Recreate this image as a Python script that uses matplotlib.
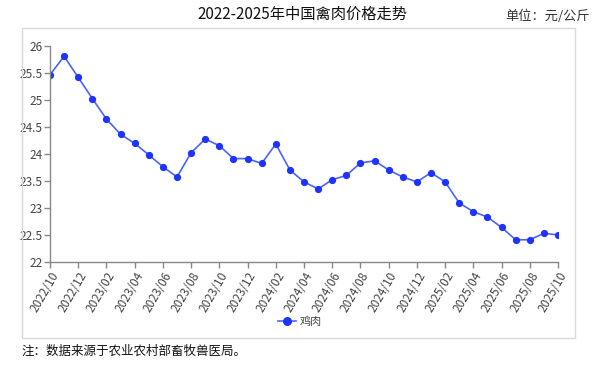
import matplotlib
matplotlib.use('Agg')
import matplotlib.pyplot as plt
from matplotlib.patches import Rectangle

plt.rcParams['font.family'] = ['Noto Sans CJK SC', 'DejaVu Sans']

# 2022/10 .. 2025/10 monthly
months = ['2022/10', '2022/11', '2022/12',
          '2023/01', '2023/02', '2023/03', '2023/04', '2023/05', '2023/06',
          '2023/07', '2023/08', '2023/09', '2023/10', '2023/11', '2023/12',
          '2024/01', '2024/02', '2024/03', '2024/04', '2024/05', '2024/06',
          '2024/07', '2024/08', '2024/09', '2024/10', '2024/11', '2024/12',
          '2025/01', '2025/02', '2025/03', '2025/04', '2025/05', '2025/06',
          '2025/07', '2025/08', '2025/09', '2025/10']
chicken = [25.46, 25.80, 25.41,
           25.02, 24.64, 24.36, 24.19, 23.98, 23.76,
           23.57, 24.02, 24.27, 24.15, 23.91, 23.91,
           23.82, 24.18, 23.70, 23.48, 23.35, 23.52,
           23.60, 23.83, 23.87, 23.70, 23.57, 23.48,
           23.65, 23.48, 23.09, 22.93, 22.83, 22.64,
           22.41, 22.41, 22.53, 22.50]
yticks = [22, 22.5, 23, 23.5, 24, 24.5, 25, 25.5, 26]

fig = plt.figure(figsize=(6.04, 3.65), dpi=100)
W, H = 604, 365

# outer frame
fig.patches.append(Rectangle((22 / W, 1 - 338 / H), (575 - 22) / W, (338 - 27.5) / H,
                             transform=fig.transFigure, fill=False,
                             edgecolor='#d9d9d9', linewidth=1.0))

ax = fig.add_axes([50 / W, 1 - 262 / H, (558 - 50) / W, (262 - 45.5) / H])
x = list(range(len(months)))
line, = ax.plot(x, chicken, color='#4a63ff', linewidth=1.2, marker='o',
                markersize=4.2, markerfacecolor='#1f33ff', markeredgecolor='#1f33ff',
                label='鸡肉')

ax.set_xlim(0, len(months) - 1)
ax.set_ylim(22, 26)
ax.set_yticks(yticks)
ax.set_yticklabels([f'{v:g}' for v in yticks])
ax.set_xticks(x[::2])
ax.set_xticklabels(months[::2], rotation=60, ha='right', rotation_mode='anchor')

for s in ['top', 'right']:
    ax.spines[s].set_visible(False)
for s in ['left', 'bottom']:
    ax.spines[s].set_color('#888888')
    ax.spines[s].set_linewidth(1.0)
ax.tick_params(axis='both', colors='#888888', labelcolor='#444444', labelsize=8.5,
               length=4, width=1.0, direction='out', pad=1.5)

fig.legend(handles=[line], loc='center', bbox_to_anchor=(300 / W, 1 - 322 / H),
           frameon=False, fontsize=8, handlelength=1.6, handletextpad=0.3,
           markerscale=1.3, labelcolor='#444444')

fig.text(302 / W, 1 - 14 / H, '2022-2025年中国禽肉价格走势', ha='center', va='center',
         fontsize=11, color='#111111')
fig.text(590 / W, 1 - 16 / H, '单位：元/公斤', ha='right', va='center',
         fontsize=9.5, color='#333333')
fig.text(22 / W, 1 - 351 / H, '注：数据来源于农业农村部畜牧兽医局。', ha='left', va='center',
         fontsize=9, color='#111111')

fig.savefig('out.png', dpi=100)
